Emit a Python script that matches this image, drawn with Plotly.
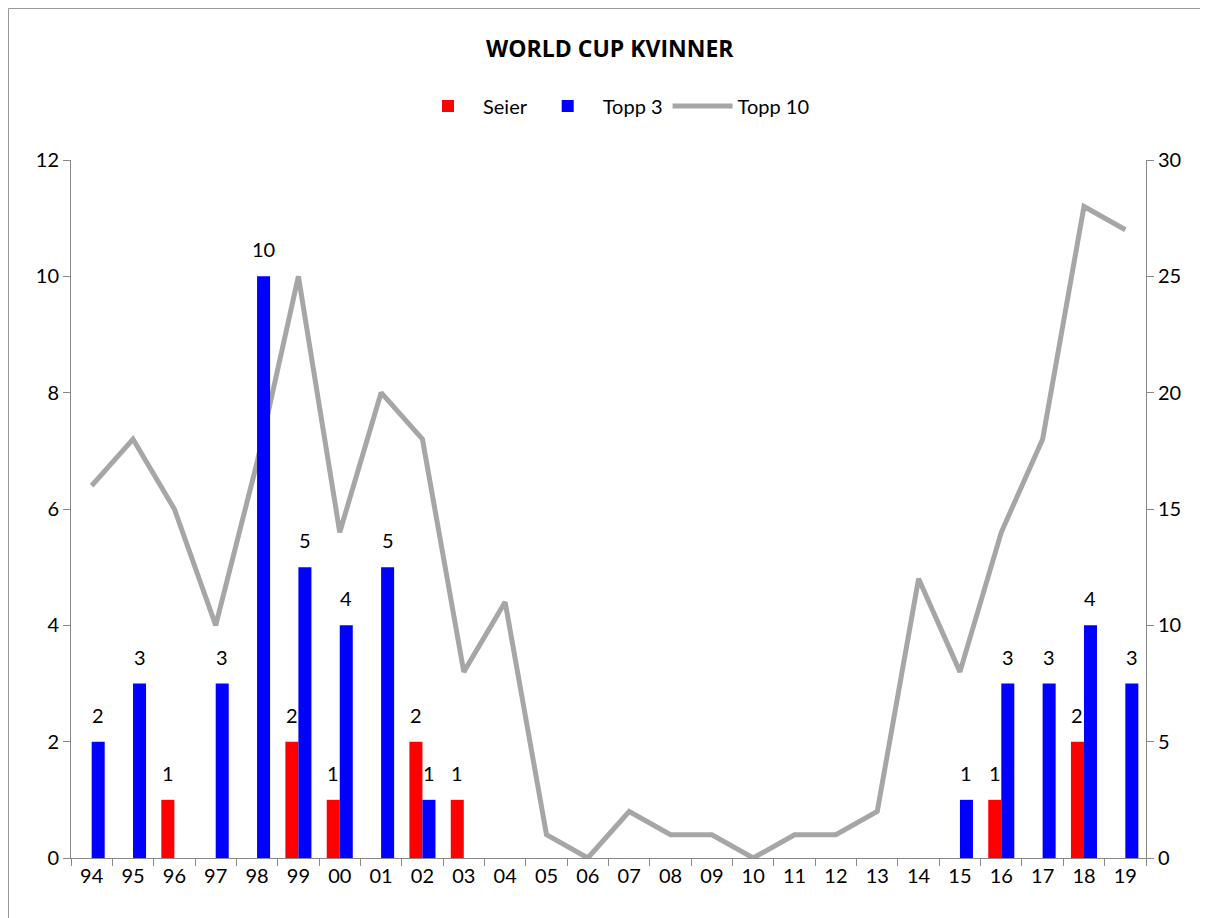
import plotly.graph_objects as go

years = ["94", "95", "96", "97", "98", "99", "00", "01", "02", "03", "04", "05", "06",
         "07", "08", "09", "10", "11", "12", "13", "14", "15", "16", "17", "18", "19"]
seier = [0, 0, 1, 0, 0, 2, 1, 0, 2, 1, 0, 0, 0, 0, 0, 0, 0, 0, 0, 0, 0, 0, 1, 0, 2, 0]
topp3 = [2, 3, 0, 3, 10, 5, 4, 5, 1, 0, 0, 0, 0, 0, 0, 0, 0, 0, 0, 0, 0, 1, 3, 3, 4, 3]
topp10 = [16, 18, 15, 10, 17, 25, 14, 20, 18, 8, 11, 1, 0, 2, 1, 1, 0, 1, 1, 2, 12, 8, 14, 18, 28, 27]

FONT = "Lato"
OFF = 8  # page body margin
W, H = 1200, 910
ML, MR, MT, MB = 71 - OFF, 62, 160 - OFF, 60
pw = W - ML - MR
ph = H - MT - MB


def py(p):
    """screen pixel row -> paper y"""
    return (H - MB - (p - OFF)) / ph


def px(p):
    """screen pixel column -> paper x"""
    return ((p - OFF) - ML) / pw


fig = go.Figure()

# line on primary (right side) so bars on overlaying axis are drawn on top
fig.add_trace(go.Scatter(x=years, y=topp10, name="Topp 10", mode="lines",
                         line=dict(color="#A6A6A6", width=5), yaxis="y",
                         legendrank=3))
fig.add_trace(go.Bar(x=years, y=seier, name="Seier", marker=dict(color="#FF0000", line=dict(width=0)),
                     yaxis="y2", legendrank=1))
fig.add_trace(go.Bar(x=years, y=topp3, name="Topp 3", marker=dict(color="#0000FF", line=dict(width=0)),
                     yaxis="y2", legendrank=2))

annotations = []
for vals, shift in ((seier, -6.5), (topp3, 6.5)):
    for i, v in enumerate(vals):
        if v:
            annotations.append(dict(x=i, y=v, xref="x", yref="y2", text=str(v),
                                    showarrow=False, xshift=shift, yshift=13,
                                    yanchor="bottom", font=dict(family=FONT, size=20, color="#000")))
annotations.append(dict(x=px(610), y=py(48), xref="paper", yref="paper", yanchor="middle",
                        xanchor="center",
                        text="<b>WORLD CUP KVINNER</b>", showarrow=False,
                        font=dict(family="Open Sans", size=23, color="#000")))

fig.update_layout(
    width=W, height=H,
    margin=dict(l=ML, r=MR, t=MT, b=MB),
    paper_bgcolor="white", plot_bgcolor="white",
    barmode="group", bargap=0.37, bargroupgap=0,
    font=dict(family=FONT, size=20, color="#000"),
    showlegend=True,
    legend=dict(orientation="h", x=px(614), xanchor="center", y=py(106), yanchor="middle",
                font=dict(family=FONT, size=20), traceorder="normal", itemwidth=60),
    xaxis=dict(type="category", categoryorder="array", categoryarray=years,
               range=[-0.5, len(years) - 0.5], tickangle=0,
               showline=True, linecolor="#888888", linewidth=1,
               ticks="outside", tickson="boundaries", ticklen=7, tickcolor="#888888",
               showgrid=False, zeroline=False, tickfont=dict(family=FONT, size=20)),
    yaxis=dict(side="right", range=[0, 30], dtick=5, showline=True, linecolor="#888888",
               ticks="outside", ticklen=7, tickcolor="#888888", showgrid=False, zeroline=False,
               tickfont=dict(family=FONT, size=20)),
    yaxis2=dict(side="left", overlaying="y", range=[0, 12], dtick=2, showline=True,
                linecolor="#888888", ticks="outside", ticklen=7, tickcolor="#888888",
                showgrid=False, zeroline=False, tickfont=dict(family=FONT, size=20)),
    annotations=annotations,
    shapes=[dict(type="rect", xref="paper", yref="paper",
                 x0=px(8.5), x1=px(W + 40),
                 y0=py(H + 40), y1=py(8.5),
                 line=dict(color="#999999", width=1), layer="below")],
)

fig.write_html("out.html")
